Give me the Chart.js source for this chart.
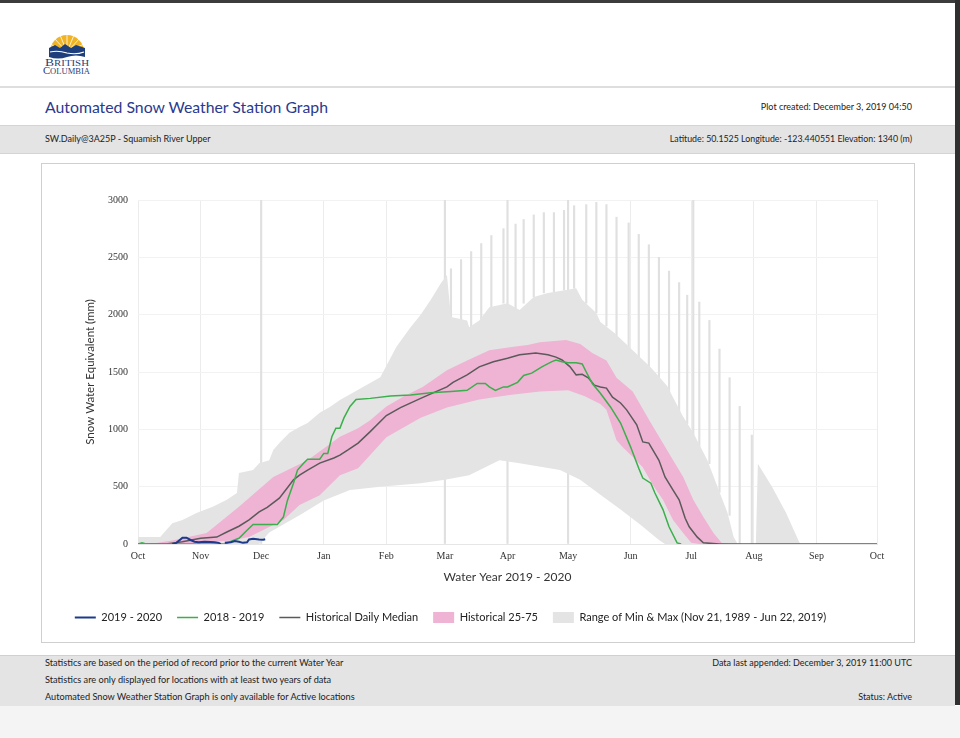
<!DOCTYPE html>
<html><head><meta charset="utf-8">
<script src="https://cdn.jsdelivr.net/npm/chart.js@4/dist/chart.umd.min.js"></script>
<style>
html,body{margin:0;padding:0;}
body{width:960px;height:738px;position:relative;background:#fff;overflow:hidden;font-family:Lato,'Open Sans',sans-serif;color:#222;}
.abs{position:absolute;}
#topbar{left:0;top:0;width:960px;height:3px;background:#3c3c3c;}
#rightbar{left:955px;top:0;width:5px;height:705px;background:#2f2f2f;}
#hline{left:0;top:86px;width:955px;height:2px;background:#dedede;}
#title{left:45px;top:97px;font-size:15.8px;color:#2b3a8f;white-space:nowrap;}
#created{right:48px;top:101px;font-size:9px;white-space:nowrap;}
#band{left:0;top:125px;width:955px;height:27px;background:#e4e4e4;border-top:1px solid #d4d4d4;border-bottom:1px solid #d4d4d4;}
#station{left:45px;top:133px;font-size:9px;white-space:nowrap;}
#coords{right:48px;top:133px;font-size:8.8px;white-space:nowrap;}
#box{left:41px;top:163px;width:872px;height:478px;border:1px solid #cfcfcf;background:#fff;}
#foot{left:0;top:655px;width:955px;height:50px;background:#e4e4e4;border-top:1px solid #d0d0d0;}
#below{left:0;top:706px;width:960px;height:32px;background:#f4f4f4;}
.ft{font-size:9.2px;white-space:nowrap;}
.fr{font-size:9px;white-space:nowrap;}
</style></head>
<body>
<div class="abs" id="topbar"></div>
<div class="abs" id="rightbar"></div>
<svg class="abs" style="left:40px;top:32px" width="56" height="46" viewBox="0 0 56 46">
  <defs><clipPath id="half"><rect x="0" y="0" width="56" height="17"/></clipPath></defs>
  <circle cx="27" cy="20" r="17" fill="#f0b323" clip-path="url(#half)"/>
  <g stroke="#fff" stroke-width="0.8">
    <line x1="27" y1="20" x2="10" y2="12"/><line x1="27" y1="20" x2="14" y2="6"/><line x1="27" y1="20" x2="20" y2="3"/>
    <line x1="27" y1="20" x2="27" y2="1"/><line x1="27" y1="20" x2="34" y2="3"/><line x1="27" y1="20" x2="40" y2="6"/><line x1="27" y1="20" x2="44" y2="12"/>
  </g>
  <path d="M9 16 L15 13 L20 16 L25 12 L31 16 L36 13 L45 16 L45 25 Q36 22 27 25 Q18 28 9 25 Z" fill="#1e3f7c"/>
  <path d="M10 20 Q18 18 27 21 Q36 23 44 20" stroke="#fff" stroke-width="1.1" fill="none"/>
  <text x="5" y="34" textLength="44" lengthAdjust="spacingAndGlyphs" font-family="'Liberation Serif',serif" font-size="9.5" fill="#1e3f7c">B<tspan font-size="7.6">RITISH</tspan></text>
  <text x="3" y="42" textLength="47" lengthAdjust="spacingAndGlyphs" font-family="'Liberation Serif',serif" font-size="9.5" fill="#1e3f7c">C<tspan font-size="7.6">OLUMBIA</tspan></text>
</svg>
<div class="abs" id="hline"></div>
<div class="abs" id="title">Automated Snow Weather Station Graph</div>
<div class="abs" id="created">Plot created: December 3, 2019 04:50</div>
<div class="abs" id="band"></div>
<div class="abs" id="station">SW.Daily@3A25P - Squamish River Upper</div>
<div class="abs" id="coords">Latitude: 50.1525 Longitude: -123.440551 Elevation: 1340 (m)</div>
<div class="abs" id="box"><canvas id="c" width="872" height="478"></canvas></div>
<div class="abs" id="foot"></div>
<div class="abs ft" style="left:45px;top:657px">Statistics are based on the period of record prior to the current Water Year</div>
<div class="abs ft" style="left:45px;top:674px">Statistics are only displayed for locations with at least two years of data</div>
<div class="abs ft" style="left:45px;top:691px">Automated Snow Weather Station Graph is only available for Active locations</div>
<div class="abs fr" style="right:48px;top:657px">Data last appended: December 3, 2019 11:00 UTC</div>
<div class="abs fr" style="right:48px;top:691px">Status: Active</div>
<div class="abs" id="below"></div>
<script>
// x values are days since Oct 1 of the water year
const monthDays = [0,31,61,92,123,152,183,213,244,274,305,336,366];
const monthLabels = ['Oct','Nov','Dec','Jan','Feb','Mar','Apr','May','Jun','Jul','Aug','Sep','Oct'];
const yTicks = [0,500,1000,1500,2000,2500,3000];

// 2019 - 2020 (current year)
const curDays = [17,19,21,22,24,26,28,30,33,36,38,40,41,42,43,46,48,50,52,54,55,57,60,62,63];
const curSwe  = [0,10,40,55,55,35,20,15,20,18,15,10,0,null,10,15,25,20,10,15,40,45,40,38,42];

// 2018 - 2019
const prevDays = [0,2,4,43,45,50,54,57,69,72,74,77,79,82,84,90,92,94,96,98,100,102,105,108,115,125,135,145,155,163,168,172,174,177,181,183,188,191,195,200,205,207,210,213,217,220,222,225,229,234,239,244,248,250,254,256,260,263,267,269];
const prevSwe  = [0,10,0,0,15,50,120,170,170,235,380,530,645,705,740,740,790,790,935,1010,1010,1100,1200,1260,1270,1290,1300,1320,1330,1340,1400,1400,1370,1340,1370,1370,1410,1470,1490,1545,1590,1605,1590,1580,1580,1570,1500,1400,1315,1195,1055,845,660,575,530,445,300,150,10,0];

// Historical daily median
const medDays = [0,14,22,31,39,44,50,55,60,64,70,74,77,80,84,90,97,100,104,109,115,123,130,140,147,153,156,163,169,176,183,189,197,203,207,210,214,217,220,223,226,229,232,235,239,242,247,250,253,258,261,265,268,271,273,277,280,288,366];
const medSwe  = [0,0,20,50,60,105,155,210,280,320,400,490,560,600,645,705,750,775,820,880,980,1120,1190,1270,1325,1370,1410,1475,1545,1590,1620,1650,1665,1650,1630,1605,1545,1475,1480,1450,1385,1370,1360,1280,1230,1170,1040,890,880,730,585,470,385,225,150,60,10,0,0];

// Historical 75th percentile (upper edge of band)
const p75Days = [0,6,13,17,34,50,67,84,100,109,115,123,132,141,153,163,174,186,193,199,212,219,225,232,237,245,254,262,270,275,280,285,289,293,366];
const p75Swe  = [0,0,20,30,95,325,585,730,935,1010,1080,1200,1290,1370,1515,1600,1690,1720,1735,1760,1780,1745,1665,1600,1450,1330,1055,820,585,385,235,95,10,0,0];

// Historical 25th percentile (lower edge of band)
const p25Days = [0,20,46,55,64,72,80,90,100,109,123,140,153,169,184,199,213,221,229,232,237,240,245,250,255,260,265,270,274,278,366];
const p25Swe  = [0,0,30,60,140,210,340,425,600,660,930,1100,1190,1260,1300,1330,1340,1290,1220,1170,905,845,760,670,515,385,210,95,10,0,0];

// Range of min & max
const maxDays = [0,11,17,22,29,37,44,49,50,57,60,65,67,70,75,80,84,90,95,100,120,128,135,140,145,150,153,155,163,164,169,174,183,189,196,203,212,217,220,227,229,236,245,254,262,270,275,282,287,292,295,297,306,307,314,321,327,328,366];
const maxSwe  = [60,60,180,210,270,325,385,445,620,645,705,730,820,880,970,1020,1055,1145,1195,1255,1455,1720,1890,2000,2130,2275,2345,1980,1950,1890,1950,2065,2100,2040,2155,2190,2215,2230,2130,2015,1935,1840,1690,1540,1380,1110,970,730,500,270,60,0,0,700,500,270,35,0,0];
const minDays = [0,60,65,75,80,92,105,120,140,152,164,179,189,209,219,229,239,249,258,261,366];
const minSwe  = [0,0,100,200,250,380,470,500,530,560,600,730,705,645,560,430,300,165,35,0,0];

// Isolated spikes in the max record
const spikeDays = [61,152,155,160,165,170,175,181,183,187,191,196,201,206,211,213,216,222,227,232,237,243,248,253,258,263,268,272,275,278,283,288,293,298,304];
const spikeLow  = [0,0,1950,1950,1890,1950,2065,2100,0,2040,2100,2155,2190,2200,2215,0,2230,2100,2015,1900,1800,1700,1600,1500,1400,1300,1150,1050,0,850,700,450,250,0,0];
const spikeHigh = [3000,3000,2400,2480,2550,2620,2690,2750,3000,2790,2830,2870,2890,2890,2910,3000,2950,2960,2980,2960,2850,2800,2700,2610,2500,2380,2280,2170,3000,2110,1950,1700,1450,1200,950];

const pts = (xs, ys) => xs.map((x, i) => ({x, y: ys[i]}));
const lineBase = {pointRadius:0, pointHoverRadius:0, tension:0, fill:false};

const legendShift = {id:'legendShift', afterLayout(c){ c.legend.left -= 9; c.legend.right -= 9; }};

new Chart(document.getElementById('c'), {
  type: 'line',
  plugins: [legendShift],
  data: {datasets: [
    Object.assign({label:'2019 - 2020', data: pts(curDays, curSwe), borderColor:'#1b3a8c', borderWidth:2, pointStyle:'line', order:0, spanGaps:false}, lineBase),
    Object.assign({label:'2018 - 2019', data: pts(prevDays, prevSwe), borderColor:'#3aaf4b', borderWidth:1.5, pointStyle:'line', order:1}, lineBase),
    Object.assign({label:'Historical Daily Median', data: pts(medDays, medSwe), borderColor:'#5a5a5a', borderWidth:1.5, pointStyle:'line', order:2}, lineBase),
    Object.assign({}, lineBase, {label:'Historical 25-75', data: pts(p75Days, p75Swe), borderWidth:0, borderColor:'rgba(0,0,0,0)', backgroundColor:'#efb3d3', pointStyle:'rect', fill:'+1', order:3}),
    Object.assign({label:'p25', data: pts(p25Days, p25Swe), borderWidth:0, borderColor:'rgba(0,0,0,0)', order:4}, lineBase),
    Object.assign({}, lineBase, {label:'Range of Min & Max (Nov 21, 1989 - Jun 22, 2019)', data: pts(maxDays, maxSwe), borderWidth:0, borderColor:'rgba(0,0,0,0)', backgroundColor:'#e4e4e4', pointStyle:'rect', fill:'+1', order:5}),
    Object.assign({label:'min', data: pts(minDays, minSwe), borderWidth:0, borderColor:'rgba(0,0,0,0)', order:6}, lineBase),
    {type:'bar', label:'spikes', data: spikeDays.map((d, i) => ({x:d, y:[spikeLow[i], spikeHigh[i]]})), backgroundColor:'#e0e0e0', barThickness:1.5, grouped:false, order:7}
  ]},
  options: {
    responsive:false, animation:false, devicePixelRatio:1,
    layout:{padding:{left:0, right:37, top:36, bottom:9}},
    plugins:{
      tooltip:{enabled:false},
      legend:{position:'bottom', labels:{
        usePointStyle:true, pointStyleWidth:21, boxHeight:11, padding:15, color:'#222',
        font:{family:'Lato', size:11},
        filter:(item) => [0,1,2,3,5].includes(item.datasetIndex)
      }}
    },
    scales:{
      x:{type:'linear', min:0, max:366, offset:false,
        afterBuildTicks:(s) => { s.ticks = monthDays.map(v => ({value:v})); },
        afterFit:(s) => { s.height = 53; },
        ticks:{autoSkip:false, maxRotation:0, padding:6, color:'#333', font:{family:'Liberation Serif', size:10},
          callback:(v) => monthLabels[monthDays.indexOf(v)]},
        grid:{color:'#ececec', drawTicks:false, offset:false},
        border:{color:'#e6e6e6'},
        title:{display:true, text:'Water Year 2019 - 2020', color:'#333', font:{family:'Lato', size:12}, padding:{top:0, bottom:13}}
      },
      y:{min:0, max:3000,
        afterBuildTicks:(s) => { s.ticks = yTicks.map(v => ({value:v})); },
        afterFit:(s) => { s.width = 96; },
        ticks:{padding:10, color:'#333', font:{family:'Liberation Serif', size:10}, callback:(v) => String(v)},
        grid:{color:'#f2f2f2', drawTicks:false},
        border:{display:false},
        title:{display:true, text:'Snow Water Equivalent (mm)', color:'#333', font:{family:'Lato', size:11.5}, padding:{top:41, bottom:0}}
      }
    }
  }
});
</script>
</body></html>
